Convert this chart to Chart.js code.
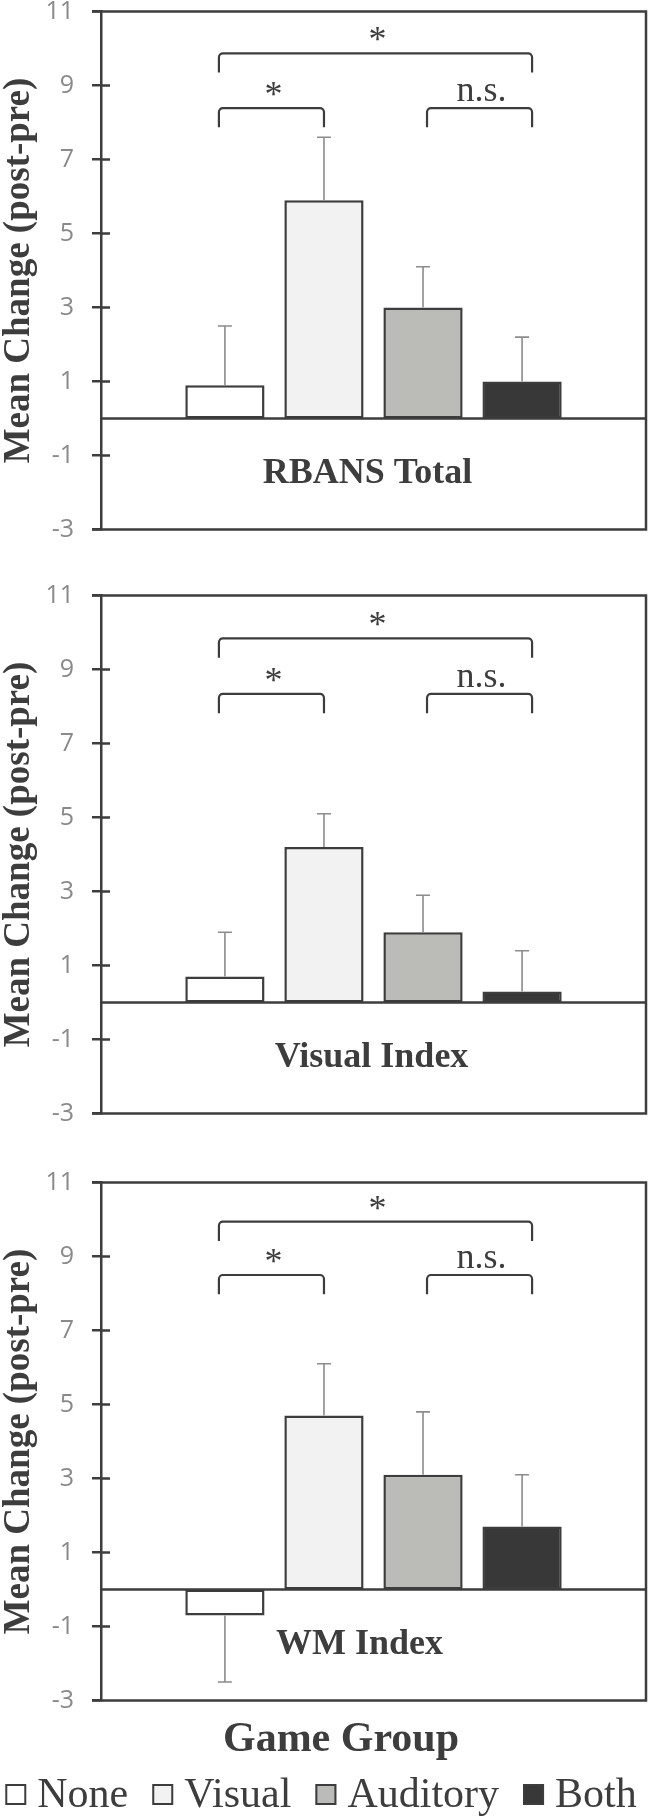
<!DOCTYPE html>
<html lang="en">
<head>
  <meta charset="UTF-8" />
  <title>Mean change by game group</title>
  <script src="https://cdn.jsdelivr.net/npm/chart.js"></script>
  <style>
    body {
      margin: 0;
      background: #fff;
    }
    .wrap {
      position: relative;
      width: 648px;
      height: 1820px;
    }
    .panel {
      position: absolute;
      left: 0;
      width: 648px;
    }
  </style>
</head>
<body>
  <div class="wrap">
    <div class="panel" style="top:0"><canvas id="c1" width="648" height="560"></canvas></div>
    <div class="panel" style="top:584px"><canvas id="c2" width="648" height="560"></canvas></div>
    <div class="panel" style="top:1171px"><canvas id="c3" width="648" height="649"></canvas></div>
  </div>

  <script>
    // groups and their fills
    const groups = ["None", "Visual", "Auditory", "Both"];
    const groupColors = ["#ffffff", "#f2f2f2", "#bbbbb8", "#383838"];
    const panelNames = ["RBANS Total", "Visual Index", "WM Index"];

    // mean change (post-pre) and error per group
    const rbansMean = [0.9, 5.9, 3.0, 1.0];
    const rbansErr = [1.6, 1.7, 1.1, 1.2];
    const visualMean = [0.7, 4.2, 1.9, 0.3];
    const visualErr = [1.2, 0.9, 1.0, 1.1];
    const wmMean = [-0.7, 4.7, 3.1, 1.7];
    const wmErr = [1.8, 1.4, 1.7, 1.4];

    // y axis
    const yMin = -3;
    const yMax = 11;
    const yStep = 2;

    // significance brackets (from, to, mark) and their heights per panel
    const bracketPairs = [["None", "Both"], ["None", "Visual"], ["Auditory", "Both"]];
    const bracketMarks = ["*", "*", "n.s."];
    const rbansBrackets = [9.87, 8.39, 8.39];
    const visualBrackets = [9.84, 8.34, 8.34];
    const wmBrackets = [9.94, 8.5, 8.5];

    const INK = "#3d3d3d";
    const SERIF = '"Liberation Serif", "Times New Roman", serif';
    // brackets were placed by hand, a little off the bar centres
    const bracketNudge = [[-6, 10], [-6, 0], [4, 10]];

    // error bars, frame, brackets and the panel name
    const panelDecor = {
      id: "panelDecor",
      afterDatasetsDraw(chart, args, opts) {
        const ctx = chart.ctx;
        const y = chart.scales.y;
        const { left, right } = chart.chartArea;
        const tickLen = 9;
        ctx.save();

        ctx.strokeStyle = "#8c8c8c";
        ctx.lineWidth = 1.6;
        chart.data.datasets.forEach((ds, i) => {
          const bar = chart.getDatasetMeta(i).data[0];
          const v = ds.data[0];
          const yA = y.getPixelForValue(v);
          const yB = y.getPixelForValue(v + Math.sign(v) * opts.errors[i]);
          ctx.beginPath();
          ctx.moveTo(bar.x, yA);
          ctx.lineTo(bar.x, yB);
          ctx.moveTo(bar.x - 7, yB);
          ctx.lineTo(bar.x + 7, yB);
          ctx.stroke();
        });

        ctx.strokeStyle = INK;
        ctx.lineWidth = 2.5;
        const yTop = y.getPixelForValue(yMax);
        const yBot = y.getPixelForValue(yMin);
        ctx.beginPath();
        ctx.moveTo(left - tickLen, yTop);
        ctx.lineTo(right, yTop);
        ctx.lineTo(right, yBot);
        ctx.lineTo(left - tickLen, yBot);
        y.ticks.forEach(t => {
          const p = y.getPixelForValue(t.value);
          ctx.moveTo(left, p);
          ctx.lineTo(left + tickLen, p);
        });
        const yZero = y.getPixelForValue(0);
        ctx.moveTo(left, yZero);
        ctx.lineTo(right, yZero);
        ctx.stroke();

        // brackets
        const centerOf = name => chart.getDatasetMeta(groups.indexOf(name)).data[0].x;
        ctx.lineWidth = 2.2;
        ctx.fillStyle = INK;
        ctx.font = "36px " + SERIF;
        ctx.textAlign = "center";
        ctx.textBaseline = "alphabetic";
        bracketPairs.forEach((pair, k) => {
          const x1 = centerOf(pair[0]) + bracketNudge[k][0];
          const x2 = centerOf(pair[1]) + bracketNudge[k][1];
          const yB = y.getPixelForValue(opts.brackets[k]);
          const yLeg = y.getPixelForValue(opts.brackets[k] - 0.52);
          ctx.beginPath();
          ctx.moveTo(x1, yLeg);
          ctx.arcTo(x1, yB, x2, yB, 4);
          ctx.arcTo(x2, yB, x2, yLeg, 4);
          ctx.lineTo(x2, yLeg);
          ctx.stroke();
          const mark = bracketMarks[k];
          ctx.fillText(mark, (x1 + x2) / 2 + 2, yB - (mark === "*" ? 2 : 7));
        });

        ctx.font = "bold 36px " + SERIF;
        ctx.textBaseline = "middle";
        ctx.fillText(opts.label, (left + right) / 2 + opts.labelShift, y.getPixelForValue(-1.5));
        ctx.restore();
      }
    };

    // x axis title and the legend under the last panel
    const groupLegend = {
      id: "groupLegend",
      afterDraw(chart) {
        const ctx = chart.ctx;
        const { bottom } = chart.chartArea;
        ctx.save();
        ctx.fillStyle = INK;
        ctx.textBaseline = "alphabetic";
        ctx.textAlign = "center";
        ctx.font = "bold 42px " + SERIF;
        ctx.fillText("Game Group", 341, bottom + 50.5);

        ctx.font = "42px " + SERIF;
        ctx.textAlign = "left";
        const box = 21, gap = 11, space = 24;
        const widths = chart.data.datasets.map(ds => ctx.measureText(ds.label).width);
        const total = widths.reduce((a, b) => a + b, 0) + 4 * (box + gap) + 3 * space;
        let x = 321 - total / 2;
        const boxTop = bottom + 83.5;
        chart.data.datasets.forEach((ds, i) => {
          ctx.fillStyle = ds.backgroundColor;
          ctx.fillRect(x, boxTop, box, box);
          ctx.strokeStyle = INK;
          ctx.lineWidth = 2;
          ctx.strokeRect(x + 1, boxTop + 1, box - 2, box - 2);
          ctx.fillStyle = INK;
          ctx.fillText(ds.label, x + box + gap, bottom + 106.2);
          x += box + gap + widths[i] + space;
        });
        ctx.restore();
      }
    };

    function makePanel(id, means, errs, brackets, label, labelShift, padBottom, extra) {
      return new Chart(document.getElementById(id), {
        type: "bar",
        data: {
          labels: ["Game Group"],
          datasets: groups.map((g, i) => ({
            label: g,
            data: [means[i]],
            backgroundColor: groupColors[i],
            borderColor: INK,
            borderWidth: 2.5,
            borderSkipped: false,
            categoryPercentage: 0.727,
            barPercentage: 0.8
          }))
        },
        options: {
          responsive: false,
          animation: false,
          layout: { padding: { top: 11.5, right: 2, bottom: padBottom, left: 0 } },
          plugins: {
            legend: { display: false },
            tooltip: { enabled: false },
            panelDecor: { errors: errs, brackets: brackets, label: label, labelShift: labelShift }
          },
          scales: {
            x: { display: false },
            y: {
              min: yMin,
              max: yMax,
              ticks: {
                stepSize: yStep,
                color: "#8a8a8a",
                padding: 18,
                font: { family: '"Open Sans", sans-serif', size: 25 }
              },
              grid: { drawOnChartArea: false, drawTicks: true, tickLength: 9, color: INK, lineWidth: 2.5 },
              border: { display: true, color: INK, width: 2.5 },
              title: {
                display: true,
                text: "Mean Change (post-pre)",
                color: INK,
                padding: 0,
                font: { family: SERIF, size: 37, weight: "bold", lineHeight: 1.04 }
              },
              afterFit(scale) {
                scale.width = 101;
                scale.paddingTop = 0;
                scale.paddingBottom = 0;
              }
            }
          }
        },
        plugins: [panelDecor].concat(extra)
      });
    }

    makePanel("c1", rbansMean, rbansErr, rbansBrackets, panelNames[0], -6, 30.5, []);
    makePanel("c2", visualMean, visualErr, visualBrackets, panelNames[1], -2, 30.5, []);
    makePanel("c3", wmMean, wmErr, wmBrackets, panelNames[2], -14, 119.5, [groupLegend]);
  </script>
</body>
</html>
